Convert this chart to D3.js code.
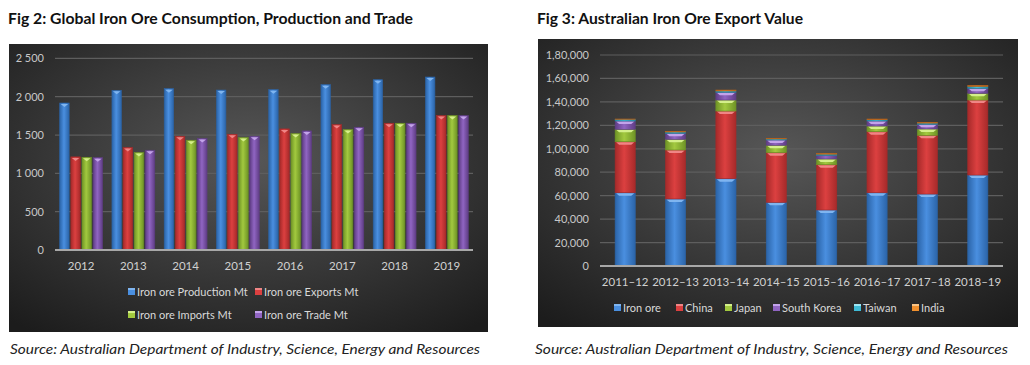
<!DOCTYPE html>
<html>
<head>
<meta charset="utf-8">
<script src="https://cdn.jsdelivr.net/npm/d3@7"></script>
<style>
  body { margin: 0; background: #fff; }
  svg text { font-family: Lato, "Open Sans", sans-serif; }
</style>
</head>
<body>
<svg id="chart" width="1030" height="365"></svg>
<script>
// ---- Fig 2 data (Mt) ----
const years = ['2012', '2013', '2014', '2015', '2016', '2017', '2018', '2019'];
const fig2Series = ['Iron ore Production Mt', 'Iron ore Exports Mt', 'Iron ore Imports Mt', 'Iron ore Trade Mt'];
const production = [1918, 2083, 2105, 2087, 2092, 2157, 2222, 2257];
const exportsMt  = [1215, 1337, 1484, 1510, 1580, 1636, 1654, 1754];
const importsMt  = [1210, 1272, 1432, 1467, 1519, 1571, 1654, 1754];
const tradeMt    = [1205, 1302, 1454, 1484, 1554, 1602, 1654, 1754];
const fig2Ticks  = [0, 500, 1000, 1500, 2000, 2500];

// ---- Fig 3 data ----
const fyears = ['2011–12', '2012–13', '2013–14', '2014–15', '2015–16', '2016–17', '2017–18', '2018–19'];
const fig3Series = ['Iron ore', 'China', 'Japan', 'South Korea', 'Taiwan', 'India'];
const ironOre    = [62500, 57200, 74500, 54300, 47800, 62500, 61400, 77600];
const china      = [43500, 41800, 57700, 42400, 38600, 52100, 50100, 64000];
const japan      = [10600,  9100,  9400,  6300,  4900,  4800,  5400,  5700];
const southKorea = [ 7100,  5100,  6600,  4500,  3100,  4300,  4000,  4300];
const taiwan     = [ 1400,  1100,  1100,   900,  1000,  1100,  1000,  1500];
const india      = [  300,   600,   800,   500,   700,   600,   700,  1000];
const fig3Ticks  = [0, 20000, 40000, 60000, 80000, 100000, 120000, 140000, 160000, 180000];

const colors = {
  blue:   ['#2b64a8', '#4a8fe0', '#7fb5f0'],
  red:    ['#a62a2a', '#dc4040', '#f08585'],
  green:  ['#6f9426', '#a2c93f', '#d4ef8a'],
  purple: ['#5f3d85', '#9065c2', '#c3a3ea'],
  cyan:   ['#23879e', '#3fbbd6', '#9ee6f4'],
  orange: ['#b8621a', '#f0902e', '#f8c384']
};

const svg = d3.select('#chart');
const defs = svg.append('defs');

// panel background
const bg = defs.append('radialGradient').attr('id', 'panelBg')
  .attr('cx', '50%').attr('cy', '40%').attr('r', '75%');
bg.append('stop').attr('offset', '0%').attr('stop-color', '#575757');
bg.append('stop').attr('offset', '100%').attr('stop-color', '#1c1c1c');

// bar gradients
Object.keys(colors).forEach(k => {
  const c = colors[k];
  const g = defs.append('linearGradient').attr('id', 'bar-' + k)
    .attr('x1', 0).attr('x2', 1).attr('y1', 0).attr('y2', 0);
  g.append('stop').attr('offset', '0%').attr('stop-color', c[0]);
  g.append('stop').attr('offset', '45%').attr('stop-color', c[1]);
  g.append('stop').attr('offset', '100%').attr('stop-color', c[0]);
});

function drawTitle(x, y, txt, len) {
  svg.append('text').attr('x', x).attr('y', y)
    .attr('textLength', len).attr('lengthAdjust', 'spacingAndGlyphs')
    .style('font-size', '16px').style('font-weight', 'bold').style('fill', '#111')
    .text(txt);
}
function drawSource(x, y, len) {
  svg.append('text').attr('x', x).attr('y', y)
    .attr('textLength', len).attr('lengthAdjust', 'spacingAndGlyphs')
    .style('font-size', '14px').style('font-style', 'italic').style('fill', '#222')
    .text('Source: Australian Department of Industry, Science, Energy and Resources');
}

function legendItem(g, x, y, key, label) {
  g.append('rect').attr('x', x).attr('y', y - 4).attr('width', 7).attr('height', 7)
    .attr('fill', colors[key][1]);
  g.append('rect').attr('x', x).attr('y', y - 4).attr('width', 7).attr('height', 2)
    .attr('fill', colors[key][2]);
  g.append('text').attr('x', x + 9).attr('y', y + 4)
    .style('font-size', '11px').style('fill', '#d9d9d9').text(label);
}

drawFig2();
drawFig3();

function drawFig2()
{
  drawTitle(8, 24, 'Fig 2: Global Iron Ore Consumption, Production and Trade', 405);
  drawSource(10, 354, 470);

  const g = svg.append('g');
  g.append('rect').attr('x', 9).attr('y', 44).attr('width', 479).attr('height', 288)
    .attr('fill', 'url(#panelBg)');

  const y = d3.scaleLinear().domain([0, 2500]).range([250, 58.4]);
  const x0 = d3.scaleBand().domain(years).range([55, 473]).paddingInner(0.18).paddingOuter(0.09);
  const x1 = d3.scaleBand().domain(fig2Series).range([0, x0.bandwidth()]).paddingInner(0.15);
  const fmt = v => d3.format(',')(v).replace(',', ' ');

  // grid
  g.selectAll('.grid').data(fig2Ticks.filter(t => t > 0)).join('line')
    .attr('x1', 55).attr('x2', 473)
    .attr('y1', d => y(d)).attr('y2', d => y(d))
    .attr('stroke', '#5e5e5e').attr('stroke-width', 1.2);
  g.selectAll('.ylab').data(fig2Ticks).join('text')
    .attr('x', 44).attr('y', d => y(d) + 4)
    .attr('text-anchor', 'end')
    .style('font-size', '11px').style('fill', '#c8c8c8')
    .text(fmt);

  const values = [production, exportsMt, importsMt, tradeMt];
  const keys = ['blue', 'red', 'green', 'purple'];
  years.forEach((yr, i) => {
    fig2Series.forEach((s, j) => {
      const bx = x0(yr) + x1(s), bw = x1.bandwidth(), top = y(values[j][i]);
      g.append('rect').attr('x', bx).attr('y', top).attr('width', bw).attr('height', y(0) - top)
        .attr('fill', `url(#bar-${keys[j]})`)
        .attr('stroke', colors[keys[j]][0]).attr('stroke-width', 0.6);
      g.append('path')
        .attr('d', `M${bx + 1},${top + 1} L${bx + bw - 1},${top + 1} L${bx + bw / 2},${top + 4} Z`)
        .attr('fill', colors[keys[j]][2]);
    });
  });

  g.append('line').attr('x1', 55).attr('x2', 473).attr('y1', 250).attr('y2', 250)
    .attr('stroke', '#a8a8a8').attr('stroke-width', 1.8);
  g.selectAll('.xlab').data(years).join('text')
    .attr('x', d => x0(d) + x0.bandwidth() / 2).attr('y', 270)
    .attr('text-anchor', 'middle')
    .style('font-size', '11.5px').style('fill', '#d0d0d0')
    .text(d => d);

  legendItem(g, 128, 292, 'blue', fig2Series[0]);
  legendItem(g, 255, 292, 'red', fig2Series[1]);
  legendItem(g, 128, 315, 'green', fig2Series[2]);
  legendItem(g, 255, 315, 'purple', fig2Series[3]);
}

function indian(n)
{
  if (n < 1000) return String(n);
  const s = String(n);
  const last3 = s.slice(-3);
  let rest = s.slice(0, -3);
  const parts = [];
  while (rest.length > 2) { parts.unshift(rest.slice(-2)); rest = rest.slice(0, -2); }
  if (rest.length) parts.unshift(rest);
  return parts.join(',') + ',' + last3;
}

function drawFig3()
{
  drawTitle(537, 24, 'Fig 3: Australian Iron Ore Export Value', 266);
  drawSource(535, 354, 473);

  const g = svg.append('g');
  g.append('rect').attr('x', 538).attr('y', 39).attr('width', 480).attr('height', 288)
    .attr('fill', 'url(#panelBg)');

  const y = d3.scaleLinear().domain([0, 180000]).range([266, 55]);
  const x = d3.scaleBand().domain(fyears).range([600, 1003]).paddingInner(0.6).paddingOuter(0.3);

  g.selectAll('.grid').data(fig3Ticks.filter(t => t > 0)).join('line')
    .attr('x1', 600).attr('x2', 1003)
    .attr('y1', d => y(d)).attr('y2', d => y(d))
    .attr('stroke', '#5e5e5e').attr('stroke-width', 1.2);
  g.selectAll('.ylab').data(fig3Ticks).join('text')
    .attr('x', 589).attr('y', d => y(d) + 4)
    .attr('text-anchor', 'end')
    .style('font-size', '11px').style('fill', '#c8c8c8')
    .text(indian);

  const rows = fyears.map((fy, i) => ({
    fy: fy, 'Iron ore': ironOre[i], 'China': china[i], 'Japan': japan[i],
    'South Korea': southKorea[i], 'Taiwan': taiwan[i], 'India': india[i]
  }));
  const stacked = d3.stack().keys(fig3Series)(rows);
  const keys = ['blue', 'red', 'green', 'purple', 'cyan', 'orange'];

  stacked.forEach((layer, j) => {
    layer.forEach(d => {
      const bx = x(d.data.fy), bw = x.bandwidth();
      const top = y(d[1]), h = y(d[0]) - y(d[1]);
      g.append('rect').attr('x', bx).attr('y', top).attr('width', bw).attr('height', h)
        .attr('fill', `url(#bar-${keys[j]})`)
        .attr('stroke', colors[keys[j]][0]).attr('stroke-width', 0.6);
      if (h > 4) {
        g.append('path')
          .attr('d', `M${bx + 1},${top + 0.5} L${bx + bw - 1},${top + 0.5} L${bx + bw - 4},${top + 3} L${bx + 4},${top + 3} Z`)
          .attr('fill', colors[keys[j]][2]);
      }
    });
  });

  g.append('line').attr('x1', 600).attr('x2', 1003).attr('y1', 266).attr('y2', 266)
    .attr('stroke', '#a8a8a8').attr('stroke-width', 1.8);
  g.selectAll('.xlab').data(fyears).join('text')
    .attr('x', d => x(d) + x.bandwidth() / 2).attr('y', 286)
    .attr('text-anchor', 'middle')
    .style('font-size', '11.5px').style('fill', '#d0d0d0')
    .text(d => d);

  const lx = [614, 676, 725, 773, 854, 912];
  fig3Series.forEach((s, j) => legendItem(g, lx[j], 308, keys[j], s));
}
</script>
</body>
</html>
